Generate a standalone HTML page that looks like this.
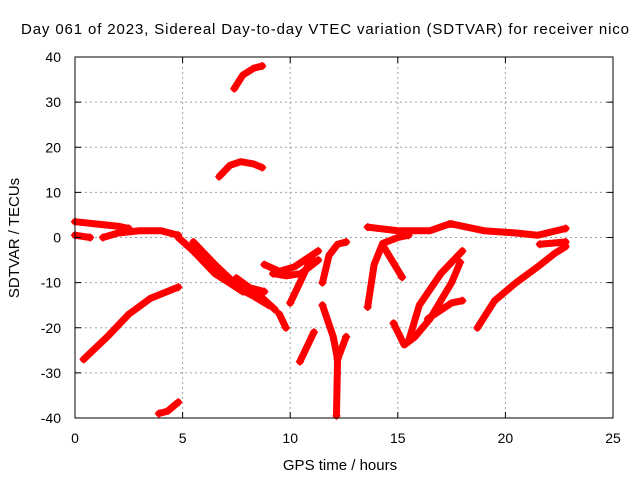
<!DOCTYPE html>
<html><head><meta charset="utf-8"><style>
body{margin:0;background:#fff;}
svg text{font-family:"Liberation Sans",sans-serif;font-size:14px;fill:#000;}
</style></head><body>
<svg id="chart" width="640" height="480" xmlns="http://www.w3.org/2000/svg">
<rect width="640" height="480" fill="#fff"/>
<g id="grid"></g>
<g id="tracks"></g>
<rect x="75" y="57" width="538" height="361" fill="none" stroke="#000" stroke-width="1"/>
<g id="ticks"></g>
<text x="21" y="34" textLength="608" lengthAdjust="spacing" style="font-size:15px">Day 061 of 2023, Sidereal Day-to-day VTEC variation (SDTVAR) for receiver nico</text>
<text x="340" y="470" text-anchor="middle" style="font-size:15px">GPS time / hours</text>
<text x="19" y="238" text-anchor="middle" transform="rotate(-90 19 238)" style="font-size:15px">SDTVAR / TECUs</text>
</svg>
<script>
const xTicks=[0,5,10,15,20,25];
const yTicks=[-40,-30,-20,-10,0,10,20,30,40];
const tracks=[
[[0,3.5],[1,3],[2,2.5],[2.5,2]],
[[0,0.5],[0.7,0]],
[[1.3,0],[2,1],[3,1.5],[4,1.5],[4.8,0.5]],
[[4.8,0],[5.5,-3],[6.5,-8],[7.5,-11],[8.3,-13],[9,-15]],
[[5.5,-1],[6.5,-6],[7.5,-10.5],[8,-11],[8.8,-12]],
[[5.6,-2],[6.3,-6],[7,-9.5],[7.8,-12]],
[[7.5,-9],[8.5,-12.5],[9.3,-16]],
[[9.5,-17],[9.8,-20]],
[[0.4,-27],[1.5,-22],[2.5,-17],[3.5,-13.5],[4.8,-11]],
[[3.9,-39],[4.3,-38.5],[4.8,-36.5]],
[[7.4,33],[7.8,36],[8.3,37.5],[8.7,38]],
[[6.7,13.5],[7.2,16],[7.7,16.8],[8.3,16.3],[8.7,15.5]],
[[8.8,-6],[9.5,-7.5],[10.2,-6.5],[11.3,-3]],
[[9.2,-8],[9.8,-8.5],[10.5,-8],[11.3,-5]],
[[10,-14.5],[10.5,-9.5],[11,-4.3]],
[[11.5,-10],[11.8,-4],[12.2,-1.5],[12.6,-1]],
[[10.45,-27.5],[11.1,-21]],
[[11.5,-15],[12,-22],[12.2,-27],[12.15,-39.5]],
[[12.2,-27],[12.6,-22]],
[[13.6,2.3],[15,1.5],[16.5,1.5],[17.4,3]],
[[17.5,3],[19,1.5],[20.5,1],[21.5,0.5],[22.8,2]],
[[13.6,-15.4],[13.9,-6],[14.3,-1.3],[15,0],[15.5,0.5]],
[[14.3,-1.7],[15.2,-8.8]],
[[14.8,-19],[15.3,-23.8],[15.8,-22],[16.5,-18],[17.5,-10],[17.9,-5.5]],
[[15.5,-23],[16,-15],[17,-8],[18,-3]],
[[16.4,-18],[17.5,-14.5],[18,-14]],
[[18.7,-20],[19.5,-14],[20.5,-10],[21.5,-6.5],[22.3,-3.5],[22.8,-2]],
[[21.6,-1.5],[22.8,-1]]
];
const NS="http://www.w3.org/2000/svg";
const sx=v=>75+v*538/25;
const sy=v=>237.5-v*361/80;
const grid=document.getElementById('grid'),ticks=document.getElementById('ticks'),tg=document.getElementById('tracks');
function mk(tag,attrs,parent){const e=document.createElementNS(NS,tag);for(const k in attrs)e.setAttribute(k,attrs[k]);parent.appendChild(e);return e;}
xTicks.forEach(t=>{
 const x=sx(t);
 if(t>0&&t<25){const l=mk('line',{x1:x,x2:x,y1:57,y2:418,stroke:'#a0a0a0','stroke-dasharray':'2,3'},grid);
 
 }
 mk('line',{x1:x,x2:x,y1:418,y2:412,stroke:'#000'},ticks);
 mk('line',{x1:x,x2:x,y1:57,y2:63,stroke:'#000'},ticks);
 const tx=mk('text',{x:x,y:443,'text-anchor':'middle'},ticks);tx.textContent=t;
 
 
});
yTicks.forEach(t=>{
 const y=sy(t);
 if(t>-40&&t<40){const l=mk('line',{x1:75,x2:613,y1:y,y2:y,stroke:'#a0a0a0','stroke-dasharray':'2,3'},grid);
 
 }
 mk('line',{x1:75,x2:81,y1:y,y2:y,stroke:'#000'},ticks);
 mk('line',{x1:613,x2:607,y1:y,y2:y,stroke:'#000'},ticks);
 const tx=mk('text',{x:61,y:y+5,'text-anchor':'end'},ticks);tx.textContent=t;
 
 
});
tracks.forEach(tr=>{
 const p=mk('polyline',{points:tr.map(d=>sx(d[0])+','+sy(d[1])).join(' '),fill:'none',stroke:'#f00','stroke-width':7,'stroke-linecap':'round','stroke-linejoin':'round'},tg);
 
 
 [tr[0],tr[tr.length-1]].forEach(d=>{
  const x=sx(d[0]),y=sy(d[1]);
  mk('path',{d:`M${x-4},${y}H${x+4}M${x},${y-4}V${y+4}`,stroke:'#f00','stroke-width':1.5},tg);
 });
});
</script>
</body></html>
